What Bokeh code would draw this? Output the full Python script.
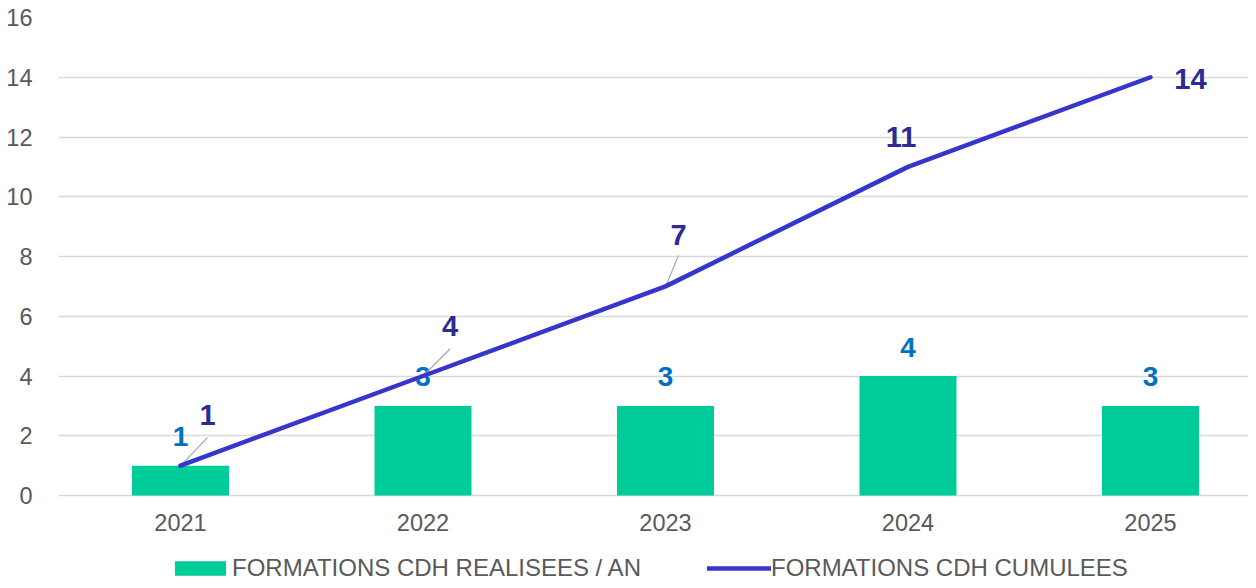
import numpy as np
from bokeh.plotting import figure
from bokeh.models import Range1d, FixedTicker, Legend, LegendItem, ColumnDataSource
from bokeh.embed import file_html
from bokeh.resources import INLINE
from bokeh.core.properties import value

# ---- data ----
years = ["2021", "2022", "2023", "2024", "2025"]
per_year = [1, 3, 3, 4, 3]
cumulative = [1, 4, 7, 11, 14]
y_ticks = [0, 2, 4, 6, 8, 10, 12, 14, 16]
bar_name = "FORMATIONS CDH REALISEES / AN"
line_name = "FORMATIONS CDH CUMULEES"

# ---- style / layout ----
FONT = "Liberation Sans"
W, H = 1248, 580
B_LEFT, B_TOP = 58, 17
ZERO_PX = 495            # screen y of value 0
frame_w = W - B_LEFT
frame_h = H - B_TOP
cat_px = 242.5
x_start = -122 / cat_px
x_end = x_start + frame_w / cat_px
px_y = (ZERO_PX - B_TOP) / 16.0
y_start = -(H - ZERO_PX) / px_y
y_end = y_start + frame_h / px_y
px_x = cat_px

# label offsets for the cumulative series (pixels, screen: +x right, +y down)
line_lbl_dx = [27, 27, 13, -7, 40]
line_lbl_dy = [-51, -50, -51, -30, 2]
# leader lines (pixels from the point), only for the first three points
leader_idx = [0, 1, 2]
leader_start = [(2, -2), (2, -2), (1, -2)]
leader_end = [(27, -28), (27, -27), (13, -31)]

idx = list(range(len(years)))

p = figure(width=W, height=H, output_backend="svg", toolbar_location=None,
           x_range=Range1d(x_start, x_end), y_range=Range1d(y_start, y_end),
           x_axis_location=None,
           min_border_left=B_LEFT, min_border_right=0,
           min_border_top=B_TOP, min_border_bottom=0)
p.outline_line_color = None
p.background_fill_color = "white"
p.border_fill_color = "white"

# grid
p.xgrid.grid_line_color = None
p.ygrid.grid_line_color = "#d9d9d9"
p.ygrid.grid_line_width = 1.5
p.ygrid.ticker = FixedTicker(ticks=y_ticks)

# y axis
ax = p.yaxis[0]
ax.axis_line_color = None
ax.major_tick_line_color = None
ax.minor_tick_line_color = None
ax.major_label_text_font = FONT
ax.major_label_text_font_size = "23.5px"
ax.major_label_text_color = "#595959"
ax.ticker = FixedTicker(ticks=y_ticks)
ax.major_label_standoff = 20

src = ColumnDataSource(dict(x=idx, bars=per_year, cum=cumulative, year=years,
                            zero=[0] * len(idx),
                            bar_txt=[str(v) for v in per_year],
                            cum_txt=[str(v) for v in cumulative],
                            dx=line_lbl_dx, dy=line_lbl_dy))

# category labels (x axis)
p.text(x="x", y="zero", text="year", source=src,
       text_font=value(FONT), text_font_size="23.5px", text_color="#595959",
       text_align="center", text_baseline="middle", y_offset=27)

bars = p.vbar(x="x", top="bars", bottom=0, width=0.4, source=src,
              fill_color="#00CC99", line_color=None)

p.text(x="x", y="bars", text="bar_txt", source=src,
       text_font=value(FONT), text_font_style="bold", text_font_size="28px",
       text_color="#0070C0", text_align="center", text_baseline="middle",
       y_offset=-29)

# leader lines
lx0 = [idx[i] + s[0] / px_x for i, s in zip(leader_idx, leader_start)]
ly0 = [cumulative[i] - s[1] / px_y for i, s in zip(leader_idx, leader_start)]
lx1 = [idx[i] + e[0] / px_x for i, e in zip(leader_idx, leader_end)]
ly1 = [cumulative[i] - e[1] / px_y for i, e in zip(leader_idx, leader_end)]
p.segment(x0=lx0, y0=ly0, x1=lx1, y1=ly1, line_color="#a6a6a6", line_width=1.2)

line = p.line(x="x", y="cum", source=src, line_color="#3636CC", line_width=4.5,
              line_cap="round", line_join="round")

p.text(x="x", y="cum", text="cum_txt", source=src,
       text_font=value(FONT), text_font_style="bold", text_font_size="29px",
       text_color="#2B2B94", text_align="center", text_baseline="middle",
       x_offset="dx", y_offset="dy")

legend = Legend(items=[LegendItem(label=bar_name, renderers=[bars]),
                       LegendItem(label=line_name, renderers=[line])],
                orientation="horizontal", location=(110, -2))
legend.border_line_color = None
legend.background_fill_color = None
legend.background_fill_alpha = 0
legend.label_text_font = FONT
legend.label_text_font_size = "24px"
legend.label_text_color = "#595959"
legend.glyph_width = 64
legend.glyph_height = 18
legend.label_standoff = 0
legend.spacing = 66
legend.padding = 0
legend.margin = 0
p.add_layout(legend, "center")

open("out.html", "w").write(file_html(p, INLINE))
